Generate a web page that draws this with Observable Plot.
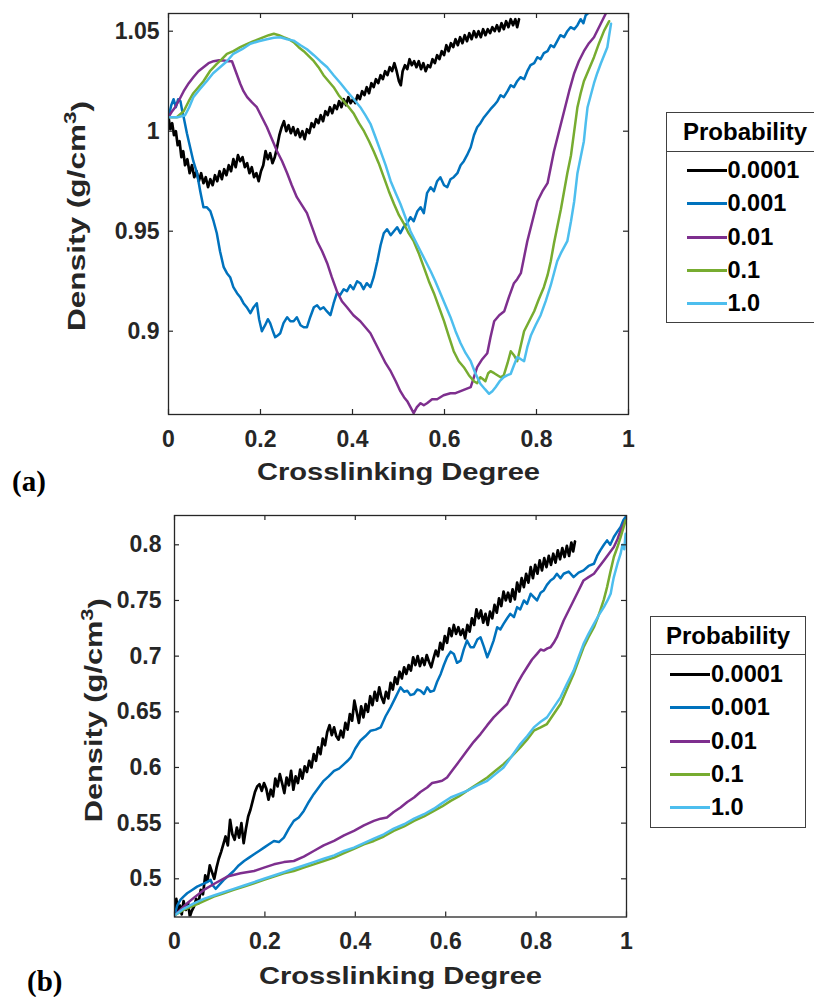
<!DOCTYPE html>
<html>
<head>
<meta charset="utf-8">
<script src="https://cdn.jsdelivr.net/npm/d3@7"></script>
<script src="https://cdn.jsdelivr.net/npm/@observablehq/plot@0.6"></script>
<style>
  body { margin: 0; background: #fff; overflow: hidden; }
  #root { position: relative; width: 814px; height: 997px; overflow: hidden; background: #fff; font-family: "Liberation Sans", Arial, sans-serif; }
  .panel-tag { position: absolute; font-family: "Liberation Serif", "Times New Roman", serif; font-weight: bold; font-size: 29px; color: #000; line-height: 1; }
  .legend { position: absolute; border: 1.5px solid #404040; background: #fff; box-sizing: border-box; }
  .legend .hdr { position: absolute; left: 0; right: 0; top: 0; border-bottom: 1.5px solid #404040; text-align: center; font-weight: bold; font-size: 24px; color: #000; }
  .legend .row { position: absolute; left: 0; height: 30px; }
  .legend .sw { position: absolute; height: 3px; }
  .legend .lbl { position: absolute; font-weight: bold; font-size: 23.5px; color: #000; line-height: 30px; top: 0; }
</style>
</head>
<body>
<div id="root"></div>
<script>
// ---------- shared labels ----------
const probabilities = ["0.0001", "0.001", "0.01", "0.1", "1.0"];
const seriesColors = ["#000000", "#0072BD", "#7E2F8E", "#77AC30", "#4DBEEE"];
const xTicks = [0, 0.2, 0.4, 0.6, 0.8, 1];
const aYTicks = [0.9, 0.95, 1, 1.05];
const bYTicks = [0.5, 0.55, 0.6, 0.65, 0.7, 0.75, 0.8];
const xLabel = "Crosslinking Degree";
const yLabelMain = "Density (g/cm";
const yLabelSup = "3";
const yLabelEnd = ")";
const yLabel = yLabelMain + yLabelSup + yLabelEnd;
const legendTitle = "Probability";

// ---------- panel (a) series ----------
const a_p0001 = [[0,1.007],[0.004,1.001],[0.008,1.004],[0.012,0.998],[0.016,1.000],[0.020,0.993],[0.024,0.995],[0.028,0.987],[0.032,0.990],[0.036,0.983],[0.041,0.986],[0.046,0.979],[0.051,0.983],[0.056,0.977],[0.061,0.980],[0.066,0.975],[0.071,0.979],[0.076,0.974],[0.081,0.977],[0.086,0.972],[0.091,0.976],[0.096,0.973],[0.101,0.978],[0.106,0.975],[0.111,0.980],[0.116,0.976],[0.121,0.981],[0.126,0.978],[0.131,0.983],[0.136,0.980],[0.141,0.986],[0.146,0.982],[0.151,0.988],[0.156,0.985],[0.161,0.987],[0.166,0.982],[0.171,0.984],[0.176,0.979],[0.181,0.982],[0.186,0.977],[0.191,0.979],[0.196,0.975],[0.201,0.980],[0.206,0.983],[0.211,0.990],[0.216,0.986],[0.221,0.989],[0.226,0.984],[0.231,0.987],[0.236,0.992],[0.241,0.998],[0.246,1.002],[0.251,1.005],[0.256,1.000],[0.261,1.003],[0.266,0.999],[0.271,1.002],[0.276,0.998],[0.281,1.001],[0.286,0.997],[0.291,1.000],[0.296,0.996],[0.301,1.001],[0.306,0.999],[0.311,1.004],[0.316,1.002],[0.321,1.006],[0.326,1.004],[0.331,1.008],[0.336,1.005],[0.341,1.010],[0.346,1.008],[0.351,1.012],[0.356,1.009],[0.361,1.013],[0.366,1.011],[0.371,1.015],[0.376,1.012],[0.381,1.016],[0.386,1.013],[0.391,1.017],[0.396,1.014],[0.401,1.016],[0.406,1.014],[0.411,1.018],[0.416,1.016],[0.421,1.020],[0.426,1.018],[0.431,1.022],[0.436,1.019],[0.441,1.024],[0.446,1.022],[0.451,1.026],[0.456,1.024],[0.461,1.028],[0.466,1.026],[0.471,1.030],[0.476,1.028],[0.481,1.032],[0.486,1.030],[0.491,1.034],[0.496,1.030],[0.501,1.025],[0.505,1.023],[0.509,1.030],[0.514,1.033],[0.519,1.031],[0.524,1.036],[0.529,1.033],[0.534,1.035],[0.539,1.032],[0.544,1.035],[0.549,1.031],[0.554,1.034],[0.559,1.030],[0.564,1.033],[0.569,1.032],[0.574,1.036],[0.579,1.034],[0.584,1.038],[0.589,1.036],[0.594,1.040],[0.599,1.038],[0.604,1.043],[0.609,1.040],[0.614,1.044],[0.619,1.042],[0.624,1.046],[0.629,1.043],[0.634,1.047],[0.639,1.044],[0.644,1.048],[0.649,1.045],[0.654,1.049],[0.659,1.046],[0.664,1.050],[0.669,1.047],[0.674,1.050],[0.679,1.047],[0.684,1.051],[0.689,1.048],[0.694,1.051],[0.699,1.049],[0.704,1.052],[0.709,1.050],[0.714,1.053],[0.719,1.050],[0.724,1.054],[0.729,1.051],[0.734,1.055],[0.739,1.052],[0.744,1.056],[0.749,1.053],[0.754,1.056],[0.758,1.052],[0.762,1.056]];
const a_p001 = [[0,1.007],[0.006,1.013],[0.011,1.016],[0.016,1.012],[0.021,1.016],[0.026,1.015],[0.030,1.010],[0.033,1.007],[0.040,0.999],[0.047,0.992],[0.054,0.985],[0.062,0.979],[0.069,0.970],[0.076,0.962],[0.083,0.962],[0.091,0.960],[0.098,0.955],[0.105,0.949],[0.112,0.940],[0.120,0.932],[0.127,0.929],[0.134,0.927],[0.141,0.922],[0.149,0.919],[0.156,0.917],[0.163,0.914],[0.170,0.912],[0.178,0.909],[0.185,0.912],[0.192,0.914],[0.197,0.906],[0.203,0.900],[0.210,0.903],[0.216,0.906],[0.221,0.904],[0.227,0.900],[0.232,0.897],[0.238,0.898],[0.243,0.899],[0.250,0.904],[0.258,0.907],[0.265,0.905],[0.272,0.905],[0.279,0.907],[0.287,0.903],[0.294,0.902],[0.301,0.902],[0.308,0.907],[0.316,0.912],[0.323,0.913],[0.330,0.911],[0.337,0.912],[0.344,0.910],[0.352,0.908],[0.359,0.914],[0.366,0.919],[0.373,0.918],[0.381,0.921],[0.388,0.920],[0.395,0.923],[0.402,0.921],[0.410,0.925],[0.417,0.924],[0.424,0.921],[0.431,0.924],[0.439,0.922],[0.446,0.927],[0.454,0.935],[0.461,0.943],[0.468,0.949],[0.475,0.951],[0.483,0.948],[0.490,0.950],[0.497,0.952],[0.504,0.949],[0.511,0.952],[0.519,0.954],[0.526,0.957],[0.533,0.955],[0.541,0.960],[0.548,0.962],[0.555,0.959],[0.562,0.969],[0.570,0.972],[0.577,0.970],[0.584,0.975],[0.591,0.977],[0.599,0.973],[0.606,0.972],[0.613,0.976],[0.620,0.977],[0.628,0.979],[0.635,0.983],[0.642,0.985],[0.649,0.988],[0.657,0.992],[0.664,0.998],[0.671,1.002],[0.678,1.004],[0.686,1.007],[0.693,1.009],[0.700,1.011],[0.708,1.013],[0.715,1.015],[0.722,1.018],[0.729,1.017],[0.737,1.020],[0.744,1.023],[0.751,1.022],[0.758,1.025],[0.765,1.027],[0.773,1.026],[0.780,1.030],[0.787,1.033],[0.795,1.034],[0.802,1.037],[0.809,1.036],[0.816,1.039],[0.824,1.040],[0.831,1.043],[0.838,1.042],[0.845,1.045],[0.852,1.048],[0.860,1.047],[0.867,1.050],[0.874,1.052],[0.882,1.051],[0.889,1.053],[0.896,1.056],[0.902,1.054],[0.907,1.058],[0.912,1.059]];
const a_p01 = [[0,1.007],[0.008,1.010],[0.0145,1.012],[0.024,1.016],[0.033,1.020],[0.044,1.024],[0.054,1.027],[0.065,1.030],[0.076,1.032],[0.087,1.034],[0.098,1.035],[0.110,1.0355],[0.120,1.0353],[0.130,1.035],[0.138,1.035],[0.146,1.030],[0.156,1.0237],[0.163,1.020],[0.171,1.017],[0.181,1.0145],[0.192,1.012],[0.203,1.007],[0.214,1.002],[0.225,0.996],[0.236,0.990],[0.247,0.985],[0.258,0.979],[0.268,0.973],[0.279,0.967],[0.290,0.963],[0.301,0.959],[0.312,0.952],[0.323,0.945],[0.334,0.940],[0.345,0.934],[0.355,0.927],[0.366,0.920],[0.377,0.915],[0.388,0.912],[0.402,0.908],[0.417,0.905],[0.428,0.902],[0.439,0.899],[0.450,0.894],[0.461,0.889],[0.472,0.884],[0.483,0.880],[0.494,0.875],[0.504,0.870],[0.512,0.867],[0.519,0.865],[0.526,0.862],[0.533,0.859],[0.540,0.862],[0.548,0.864],[0.555,0.863],[0.562,0.864],[0.573,0.866],[0.584,0.866],[0.598,0.868],[0.613,0.869],[0.624,0.869],[0.635,0.870],[0.646,0.871],[0.657,0.872],[0.664,0.877],[0.671,0.882],[0.682,0.886],[0.693,0.889],[0.700,0.897],[0.708,0.905],[0.719,0.908],[0.730,0.910],[0.740,0.917],[0.751,0.924],[0.758,0.926],[0.766,0.929],[0.773,0.937],[0.780,0.945],[0.791,0.955],[0.802,0.965],[0.813,0.970],[0.824,0.974],[0.831,0.982],[0.838,0.990],[0.849,1.000],[0.860,1.010],[0.871,1.020],[0.882,1.029],[0.892,1.035],[0.903,1.040],[0.914,1.044],[0.925,1.047],[0.938,1.053],[0.951,1.059]];
const a_p1 = [[0,1.007],[0.018,1.007],[0.033,1.010],[0.044,1.015],[0.054,1.019],[0.065,1.022],[0.076,1.025],[0.090,1.030],[0.105,1.0337],[0.116,1.036],[0.127,1.0387],[0.141,1.040],[0.156,1.042],[0.170,1.0435],[0.185,1.045],[0.196,1.046],[0.207,1.047],[0.218,1.048],[0.229,1.0487],[0.240,1.048],[0.250,1.047],[0.261,1.046],[0.272,1.0445],[0.283,1.042],[0.294,1.040],[0.305,1.0375],[0.316,1.035],[0.326,1.032],[0.337,1.028],[0.348,1.025],[0.359,1.022],[0.370,1.018],[0.381,1.015],[0.392,1.012],[0.403,1.0087],[0.414,1.004],[0.425,1.000],[0.436,0.995],[0.446,0.990],[0.457,0.984],[0.468,0.977],[0.479,0.970],[0.490,0.9637],[0.501,0.958],[0.512,0.9537],[0.522,0.949],[0.533,0.945],[0.544,0.939],[0.555,0.932],[0.566,0.925],[0.577,0.919],[0.588,0.912],[0.599,0.905],[0.610,0.897],[0.620,0.890],[0.631,0.885],[0.642,0.882],[0.653,0.878],[0.664,0.875],[0.671,0.874],[0.678,0.877],[0.684,0.876],[0.689,0.875],[0.695,0.879],[0.700,0.880],[0.708,0.879],[0.715,0.878],[0.722,0.877],[0.729,0.878],[0.737,0.884],[0.744,0.890],[0.751,0.888],[0.758,0.885],[0.766,0.893],[0.773,0.900],[0.784,0.905],[0.795,0.910],[0.805,0.916],[0.816,0.922],[0.824,0.928],[0.831,0.935],[0.838,0.944],[0.845,0.952],[0.853,0.961],[0.860,0.970],[0.867,0.979],[0.875,0.988],[0.882,1.000],[0.889,1.012],[0.896,1.019],[0.903,1.025],[0.914,1.031],[0.925,1.037],[0.936,1.044],[0.947,1.0503],[0.958,1.055]];
const a_p10 = [[0,1.007],[0.020,1.007],[0.036,1.008],[0.045,1.012],[0.054,1.017],[0.068,1.021],[0.083,1.025],[0.097,1.029],[0.112,1.032],[0.127,1.035],[0.141,1.0387],[0.160,1.041],[0.178,1.0437],[0.196,1.045],[0.214,1.046],[0.229,1.0467],[0.243,1.047],[0.258,1.046],[0.272,1.0453],[0.287,1.043],[0.301,1.041],[0.316,1.038],[0.330,1.035],[0.345,1.032],[0.359,1.028],[0.374,1.024],[0.388,1.020],[0.403,1.016],[0.417,1.012],[0.428,1.008],[0.439,1.0037],[0.450,0.997],[0.461,0.990],[0.472,0.983],[0.483,0.975],[0.494,0.969],[0.504,0.9637],[0.515,0.957],[0.526,0.950],[0.537,0.945],[0.548,0.940],[0.559,0.935],[0.570,0.930],[0.580,0.925],[0.591,0.919],[0.602,0.913],[0.613,0.907],[0.624,0.900],[0.635,0.894],[0.646,0.889],[0.657,0.885],[0.667,0.879],[0.678,0.8737],[0.688,0.871],[0.697,0.8687],[0.704,0.870],[0.711,0.872],[0.720,0.875],[0.729,0.877],[0.737,0.878],[0.744,0.8787],[0.751,0.883],[0.758,0.887],[0.766,0.886],[0.773,0.885],[0.780,0.892],[0.788,0.898],[0.798,0.903],[0.809,0.908],[0.820,0.915],[0.831,0.923],[0.838,0.929],[0.845,0.935],[0.853,0.939],[0.860,0.942],[0.867,0.945],[0.875,0.955],[0.882,0.965],[0.889,0.979],[0.896,0.987],[0.903,0.995],[0.907,1.004],[0.911,1.012],[0.918,1.018],[0.925,1.024],[0.932,1.029],[0.940,1.034],[0.947,1.038],[0.954,1.042],[0.958,1.048],[0.962,1.0537]];

// ---------- panel (b) series ----------
const b_p0001 = [[0,0.467],[0.004,0.482],[0.008,0.470],[0.012,0.476],[0.016,0.468],[0.020,0.480],[0.025,0.472],[0.030,0.478],[0.034,0.466],[0.038,0.471],[0.043,0.475],[0.048,0.482],[0.053,0.478],[0.058,0.490],[0.063,0.486],[0.068,0.503],[0.073,0.498],[0.078,0.512],[0.083,0.506],[0.088,0.500],[0.093,0.510],[0.098,0.518],[0.103,0.524],[0.108,0.531],[0.113,0.538],[0.118,0.530],[0.123,0.553],[0.128,0.540],[0.133,0.535],[0.138,0.546],[0.143,0.537],[0.148,0.550],[0.153,0.532],[0.158,0.545],[0.163,0.556],[0.168,0.562],[0.173,0.570],[0.178,0.578],[0.183,0.583],[0.188,0.585],[0.193,0.579],[0.198,0.586],[0.203,0.581],[0.208,0.571],[0.213,0.580],[0.218,0.574],[0.223,0.590],[0.228,0.583],[0.233,0.594],[0.238,0.586],[0.243,0.577],[0.248,0.591],[0.253,0.584],[0.258,0.597],[0.263,0.580],[0.268,0.592],[0.273,0.586],[0.278,0.598],[0.283,0.590],[0.288,0.601],[0.293,0.596],[0.298,0.606],[0.303,0.600],[0.308,0.612],[0.313,0.606],[0.318,0.618],[0.323,0.612],[0.328,0.626],[0.333,0.620],[0.338,0.632],[0.343,0.638],[0.348,0.629],[0.353,0.636],[0.358,0.628],[0.363,0.625],[0.368,0.633],[0.373,0.627],[0.378,0.640],[0.383,0.634],[0.388,0.648],[0.393,0.642],[0.398,0.660],[0.403,0.650],[0.408,0.640],[0.413,0.655],[0.418,0.645],[0.423,0.657],[0.428,0.650],[0.433,0.664],[0.438,0.656],[0.443,0.668],[0.448,0.660],[0.453,0.672],[0.458,0.663],[0.463,0.658],[0.468,0.668],[0.473,0.662],[0.478,0.676],[0.483,0.670],[0.488,0.681],[0.493,0.675],[0.498,0.686],[0.503,0.680],[0.508,0.690],[0.513,0.684],[0.518,0.692],[0.523,0.687],[0.528,0.699],[0.533,0.692],[0.538,0.700],[0.543,0.691],[0.548,0.698],[0.553,0.692],[0.558,0.701],[0.563,0.695],[0.568,0.690],[0.573,0.698],[0.578,0.705],[0.583,0.700],[0.588,0.712],[0.593,0.706],[0.598,0.718],[0.603,0.712],[0.608,0.725],[0.613,0.718],[0.618,0.728],[0.623,0.720],[0.628,0.726],[0.633,0.719],[0.638,0.724],[0.643,0.716],[0.648,0.728],[0.653,0.722],[0.658,0.734],[0.663,0.728],[0.668,0.742],[0.673,0.734],[0.678,0.741],[0.683,0.730],[0.688,0.738],[0.693,0.728],[0.698,0.740],[0.703,0.734],[0.708,0.746],[0.713,0.739],[0.718,0.752],[0.723,0.745],[0.728,0.758],[0.733,0.750],[0.738,0.757],[0.743,0.749],[0.748,0.760],[0.753,0.751],[0.758,0.766],[0.763,0.758],[0.768,0.770],[0.773,0.762],[0.778,0.774],[0.783,0.766],[0.788,0.780],[0.793,0.770],[0.798,0.782],[0.803,0.774],[0.808,0.786],[0.813,0.777],[0.818,0.788],[0.823,0.780],[0.828,0.790],[0.833,0.782],[0.838,0.792],[0.843,0.784],[0.848,0.795],[0.853,0.787],[0.858,0.797],[0.863,0.789],[0.868,0.799],[0.873,0.790],[0.878,0.802],[0.882,0.794],[0.886,0.803]];
const b_p001 = [[0,0.467],[0.006,0.476],[0.013,0.481],[0.020,0.484],[0.028,0.487],[0.039,0.490],[0.050,0.493],[0.061,0.495],[0.072,0.497],[0.080,0.499],[0.085,0.494],[0.091,0.491],[0.100,0.495],[0.109,0.499],[0.120,0.503],[0.131,0.507],[0.142,0.512],[0.154,0.516],[0.165,0.519],[0.176,0.522],[0.187,0.525],[0.198,0.528],[0.209,0.531],[0.220,0.534],[0.231,0.533],[0.242,0.537],[0.253,0.545],[0.264,0.552],[0.275,0.555],[0.286,0.561],[0.297,0.569],[0.308,0.576],[0.319,0.582],[0.330,0.588],[0.341,0.592],[0.353,0.597],[0.364,0.599],[0.375,0.603],[0.383,0.606],[0.390,0.609],[0.400,0.617],[0.411,0.624],[0.422,0.628],[0.434,0.633],[0.445,0.634],[0.456,0.636],[0.467,0.646],[0.478,0.654],[0.489,0.663],[0.500,0.672],[0.508,0.668],[0.515,0.669],[0.522,0.665],[0.530,0.666],[0.537,0.670],[0.544,0.669],[0.552,0.666],[0.559,0.672],[0.566,0.668],[0.574,0.669],[0.581,0.677],[0.589,0.684],[0.596,0.692],[0.603,0.699],[0.611,0.704],[0.618,0.702],[0.625,0.694],[0.633,0.696],[0.640,0.706],[0.647,0.714],[0.655,0.708],[0.662,0.708],[0.670,0.715],[0.677,0.717],[0.684,0.709],[0.692,0.699],[0.699,0.706],[0.706,0.714],[0.714,0.726],[0.721,0.724],[0.728,0.729],[0.736,0.734],[0.743,0.738],[0.751,0.735],[0.758,0.744],[0.765,0.742],[0.773,0.750],[0.780,0.747],[0.788,0.756],[0.795,0.753],[0.802,0.750],[0.810,0.757],[0.817,0.759],[0.824,0.764],[0.832,0.768],[0.839,0.770],[0.846,0.774],[0.854,0.770],[0.861,0.774],[0.872,0.776],[0.883,0.771],[0.894,0.775],[0.905,0.777],[0.916,0.781],[0.928,0.783],[0.935,0.790],[0.942,0.795],[0.950,0.800],[0.957,0.804],[0.964,0.800],[0.972,0.807],[0.980,0.812],[0.987,0.816],[0.993,0.822],[0.998,0.825]];
const b_p01 = [[0,0.467],[0.028,0.478],[0.046,0.484],[0.065,0.490],[0.090,0.496],[0.117,0.502],[0.146,0.505],[0.176,0.507],[0.198,0.510],[0.220,0.513],[0.242,0.515],[0.264,0.516],[0.286,0.520],[0.308,0.525],[0.330,0.530],[0.353,0.534],[0.375,0.539],[0.397,0.543],[0.419,0.548],[0.441,0.552],[0.456,0.554],[0.470,0.555],[0.485,0.560],[0.500,0.564],[0.515,0.569],[0.530,0.573],[0.544,0.578],[0.559,0.582],[0.570,0.586],[0.581,0.587],[0.592,0.588],[0.603,0.591],[0.614,0.597],[0.625,0.603],[0.636,0.609],[0.647,0.615],[0.662,0.623],[0.677,0.630],[0.692,0.638],[0.706,0.645],[0.721,0.651],[0.736,0.657],[0.747,0.666],[0.758,0.675],[0.769,0.683],[0.780,0.690],[0.791,0.697],[0.802,0.702],[0.810,0.706],[0.817,0.705],[0.825,0.707],[0.832,0.708],[0.839,0.712],[0.846,0.717],[0.854,0.725],[0.861,0.732],[0.872,0.741],[0.883,0.750],[0.894,0.759],[0.905,0.768],[0.916,0.771],[0.928,0.774],[0.939,0.780],[0.950,0.786],[0.961,0.792],[0.972,0.798],[0.980,0.805],[0.987,0.813],[0.993,0.818],[0.998,0.822]];
const b_p1 = [[0,0.467],[0.020,0.472],[0.043,0.476],[0.065,0.480],[0.087,0.484],[0.109,0.487],[0.131,0.490],[0.154,0.493],[0.176,0.496],[0.198,0.499],[0.220,0.502],[0.242,0.505],[0.264,0.507],[0.286,0.510],[0.308,0.513],[0.330,0.516],[0.353,0.519],[0.375,0.523],[0.397,0.527],[0.419,0.531],[0.441,0.534],[0.463,0.538],[0.485,0.543],[0.508,0.547],[0.530,0.552],[0.552,0.556],[0.574,0.561],[0.592,0.565],[0.611,0.570],[0.629,0.574],[0.647,0.579],[0.670,0.585],[0.692,0.591],[0.710,0.597],[0.728,0.603],[0.746,0.610],[0.765,0.618],[0.780,0.625],[0.795,0.633],[0.810,0.636],[0.824,0.639],[0.839,0.648],[0.854,0.657],[0.868,0.670],[0.883,0.684],[0.894,0.696],[0.905,0.708],[0.916,0.717],[0.928,0.726],[0.935,0.733],[0.942,0.741],[0.950,0.751],[0.957,0.762],[0.964,0.775],[0.972,0.789],[0.980,0.798],[0.987,0.807],[0.993,0.815],[0.998,0.822]];
const b_p10 = [[0,0.467],[0.020,0.473],[0.043,0.478],[0.065,0.482],[0.087,0.485],[0.109,0.488],[0.131,0.491],[0.154,0.494],[0.176,0.497],[0.198,0.500],[0.220,0.503],[0.242,0.506],[0.264,0.509],[0.286,0.512],[0.308,0.515],[0.330,0.518],[0.353,0.521],[0.375,0.525],[0.397,0.528],[0.419,0.532],[0.441,0.536],[0.463,0.540],[0.485,0.545],[0.508,0.549],[0.530,0.554],[0.552,0.558],[0.574,0.563],[0.592,0.568],[0.611,0.573],[0.629,0.576],[0.647,0.579],[0.670,0.584],[0.692,0.588],[0.710,0.594],[0.728,0.600],[0.746,0.610],[0.765,0.621],[0.780,0.628],[0.795,0.636],[0.810,0.641],[0.824,0.645],[0.839,0.654],[0.854,0.663],[0.868,0.675],[0.883,0.687],[0.894,0.699],[0.905,0.711],[0.916,0.720],[0.928,0.729],[0.939,0.737],[0.950,0.744],[0.958,0.750],[0.965,0.756],[0.969,0.765],[0.972,0.771],[0.980,0.783],[0.987,0.792],[0.991,0.800],[0.995,0.796],[0.998,0.810]];

const panelA = [a_p0001, a_p001, a_p01, a_p1, a_p10];
const panelB = [b_p0001, b_p001, b_p01, b_p1, b_p10];

const FONT = '"Liberation Sans", Arial, sans-serif';
const INK = "#262626";

function rowsOf(series) {
  return series.map(s => s.map(([x, y]) => ({x, y})));
}

function makePanel(cfg) {
  const {width, height, mt, mr, mb, ml, yDomain, yTicks, tickPadX, tickPadY, xLabDy, yLabDx, yLabDy, series} = cfg;
  const FW = width - ml - mr, FH = height - mt - mb;
  const data = rowsOf(series);
  const marks = [];
  data.forEach((rows, i) => {
    marks.push(Plot.line(rows, {x: "x", y: "y", stroke: seriesColors[i], strokeWidth: i === 0 ? 2.7 : 2.5, clip: true, strokeLinejoin: "round"}));
  });
  marks.push(
    Plot.frame({stroke: INK, strokeWidth: 1.3}),
    Plot.tickX(xTicks, {x: d => d, insetTop: FH - 5, stroke: INK, strokeWidth: 1.2}),
    Plot.tickX(xTicks, {x: d => d, insetBottom: FH - 5, stroke: INK, strokeWidth: 1.2}),
    Plot.tickY(yTicks, {y: d => d, insetRight: FW - 5, stroke: INK, strokeWidth: 1.2}),
    Plot.tickY(yTicks, {y: d => d, insetLeft: FW - 5, stroke: INK, strokeWidth: 1.2}),
    Plot.axisX(xTicks, {tickSize: 0, tickPadding: tickPadX, tickFormat: d => String(d), label: null}),
    Plot.axisY(yTicks, {tickSize: 0, tickPadding: tickPadY, tickFormat: d => String(d), label: null}),
    Plot.text([xLabel], {text: d => d, frameAnchor: "bottom", dx: -cfg.xLabLen / 2, dy: xLabDy, textAnchor: "start", lineAnchor: "middle", fontSize: 24, fill: INK}),
    Plot.text([yLabel], {text: d => d, frameAnchor: "left", rotate: -90, dx: yLabDx, dy: yLabDy, textAnchor: "start", lineAnchor: "middle", fontSize: 24, fill: INK})
  );
  const svg = Plot.plot({
    width, height,
    marginTop: mt, marginRight: mr, marginBottom: mb, marginLeft: ml,
    x: {domain: [0, 1]},
    y: {domain: yDomain},
    style: {fontFamily: FONT, fontSize: "23px", fontWeight: "bold", color: INK, background: "transparent", overflow: "visible"},
    marks
  });
  // stretch axis titles to the reference lengths; raise the "3" as a superscript
  d3.select(svg).selectAll("text").each(function() {
    const t = this.textContent;
    const sel = d3.select(this);
    if (t === xLabel) { sel.attr("textLength", cfg.xLabLen).attr("lengthAdjust", "spacingAndGlyphs"); }
    if (t === yLabel) {
      sel.text(null);
      sel.append("tspan").text(yLabelMain);
      sel.append("tspan").attr("dy", "-0.55em").attr("font-size", "17px").text(yLabelSup);
      sel.append("tspan").attr("dy", "0.55em").text(yLabelEnd);
      sel.attr("textLength", cfg.yLabLen).attr("lengthAdjust", "spacingAndGlyphs");
    }
  });
  return svg;
}

const root = document.getElementById("root");

const svgA = makePanel({
  width: 640, height: 500, mt: 13, mr: 12, mb: 86, ml: 168,
  yDomain: [0.85835, 1.05885], yTicks: aYTicks,
  tickPadX: 16, tickPadY: 9, xLabDy: 58, yLabDx: -91, yLabDy: 117,
  xLabLen: 283, yLabLen: 230, series: panelA
});
svgA.style.position = "absolute"; svgA.style.left = "0px"; svgA.style.top = "0px";
root.appendChild(svgA);

const svgB = makePanel({
  width: 640, height: 497, mt: 15, mr: 14, mb: 80.5, ml: 174,
  yDomain: [0.46569, 0.82632], yTicks: bYTicks,
  tickPadX: 15.5, tickPadY: 13, xLabDy: 59.5, yLabDx: -80, yLabDy: 106,
  xLabLen: 283, yLabLen: 224, series: panelB
});
svgB.style.position = "absolute"; svgB.style.left = "0px"; svgB.style.top = "500px";
root.appendChild(svgB);

// panel tags
[["(a)", 12, 467], ["(b)", 27, 967]].forEach(([t, x, y]) => {
  const d = document.createElement("div");
  d.className = "panel-tag"; d.textContent = t;
  d.style.left = x + "px"; d.style.top = y + "px";
  root.appendChild(d);
});

// legends
function makeLegend(left, top, width, height, hdrH, rowTop, swL, txtL) {
  const box = document.createElement("div");
  box.className = "legend";
  Object.assign(box.style, {left: left + "px", top: top + "px", width: width + "px", height: height + "px"});
  const hdr = document.createElement("div");
  hdr.className = "hdr"; hdr.textContent = legendTitle;
  hdr.style.height = hdrH + "px"; hdr.style.lineHeight = hdrH + "px";
  box.appendChild(hdr);
  probabilities.forEach((p, i) => {
    const row = document.createElement("div");
    row.className = "row";
    row.style.top = (rowTop + i * 33.35 - 15) + "px";
    row.style.width = width + "px";
    const sw = document.createElement("div");
    sw.className = "sw";
    Object.assign(sw.style, {left: swL + "px", width: "40px", top: "14px", background: seriesColors[i]});
    const lb = document.createElement("div");
    lb.className = "lbl"; lb.textContent = p; lb.style.left = txtL + "px";
    row.appendChild(sw); row.appendChild(lb);
    box.appendChild(row);
  });
  root.appendChild(box);
}
makeLegend(665.5, 112, 159, 211, 38, 57, 20, 61);
makeLegend(650, 615.5, 156, 212.5, 37.5, 57.5, 19, 60);
</script>
</body>
</html>
